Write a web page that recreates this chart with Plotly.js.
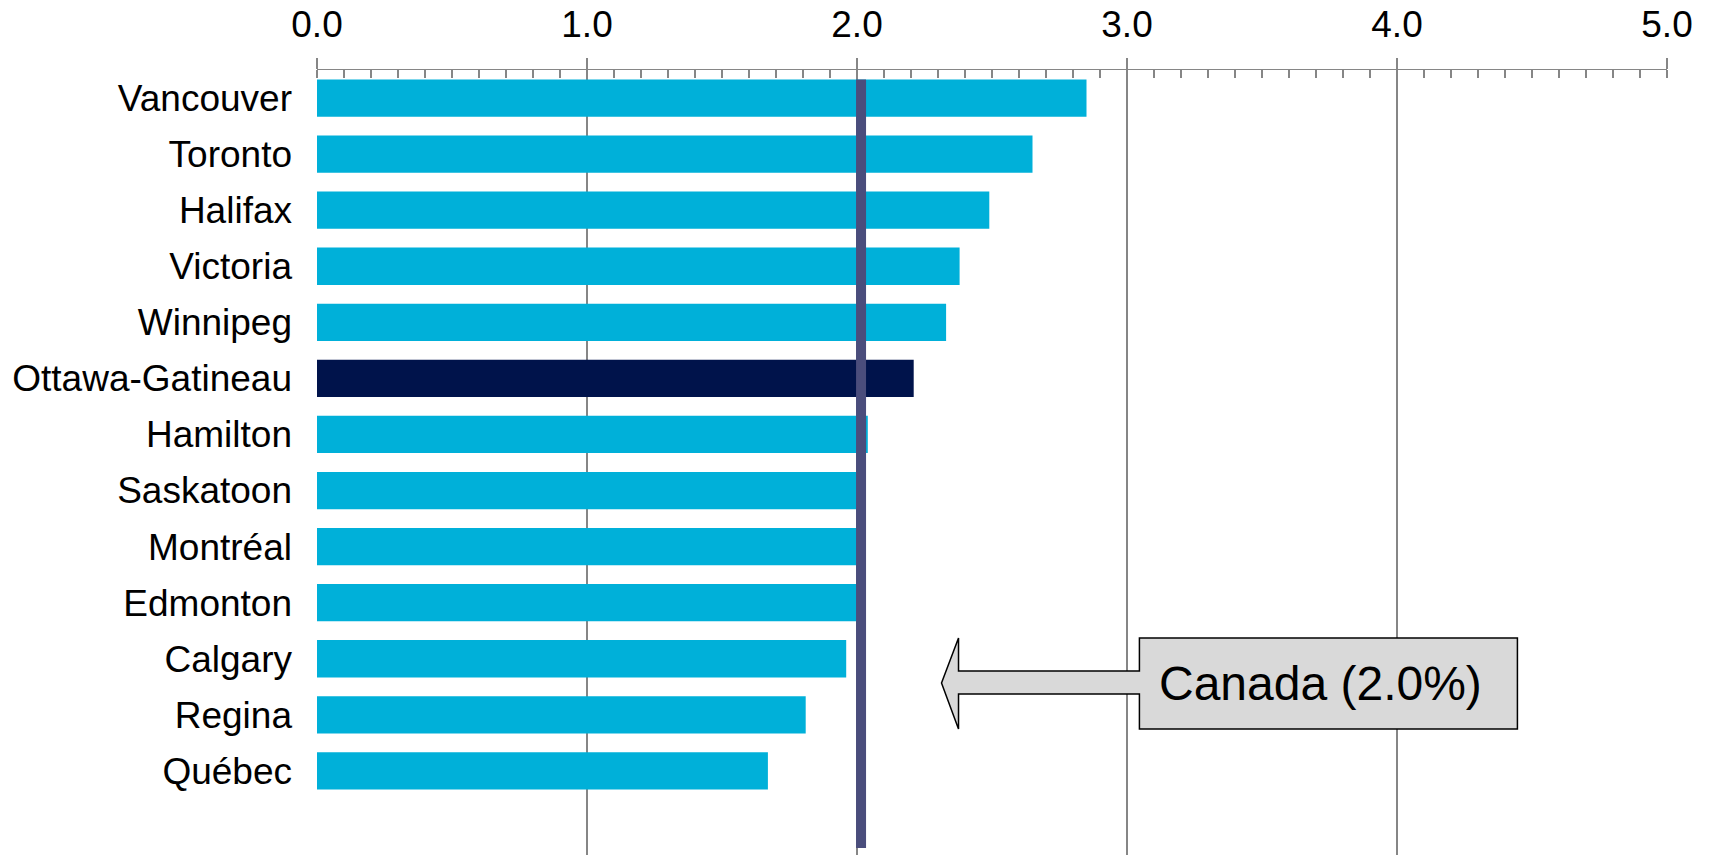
<!DOCTYPE html>
<html>
<head>
<meta charset="utf-8">
<script src="https://cdn.plot.ly/plotly-3.0.1.min.js"></script>
<style>html,body{margin:0;padding:0;background:#fff;}#chart{width:1714px;height:855px;}</style>
</head>
<body>
<div id="chart"></div>
<script>
const cities = ["Vancouver","Toronto","Halifax","Victoria","Winnipeg","Ottawa-Gatineau","Hamilton","Saskatoon","Montréal","Edmonton","Calgary","Regina","Québec"];
const values = [2.85, 2.65, 2.49, 2.38, 2.33, 2.21, 2.04, 2.02, 2.01, 2.00, 1.96, 1.81, 1.67];
const highlight = "Ottawa-Gatineau";
const canadaValue = 2.0;
const canadaLineX = 2.015;
const canadaLabel = "Canada (" + canadaValue.toFixed(1) + "%)";
const xTicks = [0, 1, 2, 3, 4, 5];

const cyan = "#00B0D9";
const navy = "#00134B";
const grey = "#868686";
const font = "Liberation Sans, Arial, sans-serif";

const colors = cities.map(c => c === highlight ? navy : cyan);

const trace = {
  type: "bar",
  orientation: "h",
  x: values,
  y: cities,
  marker: {color: colors, line: {width: 0}},
  hoverinfo: "skip"
};

// callout geometry (x in data units, y in paper units)
const tipX = 2.313, backX = 2.376, boxL = 3.046, boxR = 4.446;
const yTop = 0.2764, yBot = 0.1605, sTop = 0.2344, sBot = 0.2051, yMid = 0.2191;
const path = `M ${tipX} ${yMid} L ${backX} ${yTop} L ${backX} ${sTop} L ${boxL} ${sTop} L ${boxL} ${yTop} L ${boxR} ${yTop} L ${boxR} ${yBot} L ${boxL} ${yBot} L ${boxL} ${sBot} L ${backX} ${sBot} L ${backX} ${yBot} Z`;

const layout = {
  width: 1714, height: 855, autosize: false,
  margin: {l: 317, r: 47, t: 70, b: 0, pad: 0},
  paper_bgcolor: "#fff", plot_bgcolor: "#fff",
  font: {family: font, size: 34, color: "#000"},
  showlegend: false,
  bargap: 0.335,
  xaxis: {
    side: "top",
    range: [0, 5],
    tickvals: xTicks,
    tickformat: ".1f",
    ticks: "outside", ticklen: 11, tickwidth: 1.5, tickcolor: grey,
    showline: true, linecolor: grey, linewidth: 1.5,
    showgrid: true, gridcolor: grey, gridwidth: 1.3,
    zeroline: false,
    ticklabelstandoff: 6,
    tickfont: {family: font, size: 37, color: "#000"},
    minor: {dtick: 0.1, ticks: "inside", ticklen: 8, tickwidth: 1.5, tickcolor: grey, showgrid: false},
    fixedrange: true
  },
  yaxis: {
    type: "category",
    categoryorder: "array",
    categoryarray: cities,
    range: [13.5, -0.5],
    showgrid: false, zeroline: false, showline: false,
    ticks: "",
    ticklabelstandoff: 24,
    tickfont: {family: font, size: 37, color: "#000"},
    fixedrange: true
  },
  shapes: [
    {type: "line", xref: "x", yref: "paper", x0: canadaLineX, x1: canadaLineX, y0: 0.009, y1: 0.988,
     line: {color: "#4A4D7C", width: 10}, layer: "above"},
    {type: "path", xref: "x", yref: "paper", path: path, fillcolor: "#D9D9D9",
     line: {color: "#000", width: 1.5}, layer: "above"}
  ],
  annotations: [
    {xref: "x", yref: "paper", x: (boxL + boxR) / 2 - 0.03, y: yMid, text: canadaLabel, showarrow: false,
     font: {family: font, size: 48, color: "#000"}, xanchor: "center", yanchor: "middle"}
  ]
};

Plotly.newPlot("chart", [trace], layout, {displayModeBar: false, staticPlot: true});
</script>
</body>
</html>
